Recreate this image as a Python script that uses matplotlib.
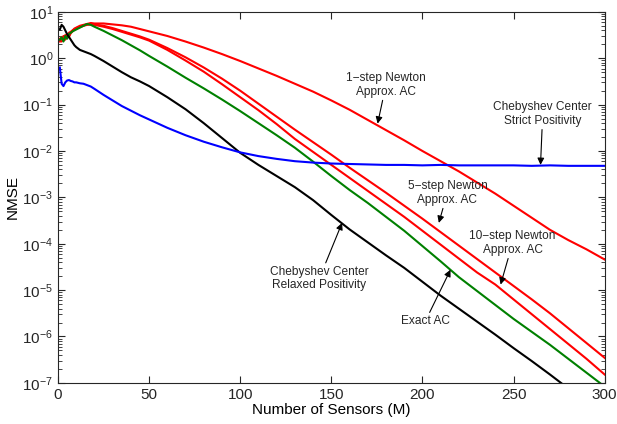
import matplotlib
matplotlib.use("Agg")
import matplotlib.pyplot as plt
from matplotlib.ticker import LogLocator, NullFormatter
import numpy as np

plt.rcParams['font.family'] = ['Liberation Sans', 'DejaVu Sans']
plt.rcParams['mathtext.default'] = 'regular'

# number of sensors
M = [1, 2, 3, 4, 5, 6, 7, 8, 9, 10, 12, 14, 16, 18, 20,
     25, 30, 35, 40, 45, 50, 60, 70, 80, 90, 100, 110, 120, 130, 140, 150, 160, 170,
     180, 190, 200, 210, 220, 230, 240, 250, 260, 270, 280, 290, 300]

# log10(NMSE)
log_cheb_relaxed = [0.62, 0.72, 0.68, 0.60, 0.52, 0.46, 0.40, 0.34, 0.28, 0.24, 0.18, 0.15, 0.12, 0.09, 0.05,
                    -0.06, -0.18, -0.30, -0.41, -0.50, -0.60, -0.84, -1.10, -1.40, -1.72, -2.04, -2.30, -2.54, -2.78, -3.06, -3.38, -3.69, -3.97,
                    -4.25, -4.52, -4.82, -5.12, -5.40, -5.68, -5.96, -6.25, -6.53, -6.82, -7.12, -7.40, -7.70]
log_cheb_strict = [-0.20, -0.55, -0.60, -0.52, -0.48, -0.47, -0.49, -0.50, -0.52, -0.52, -0.54, -0.55, -0.58, -0.61, -0.66,
                   -0.79, -0.91, -1.03, -1.13, -1.23, -1.32, -1.50, -1.66, -1.80, -1.92, -2.03, -2.11, -2.17, -2.22, -2.25, -2.27, -2.28, -2.29,
                   -2.30, -2.30, -2.31, -2.30, -2.31, -2.31, -2.31, -2.31, -2.32, -2.31, -2.32, -2.32, -2.32]
log_exact = [0.40, 0.45, 0.36, 0.48, 0.42, 0.52, 0.55, 0.58, 0.60, 0.62, 0.66, 0.70, 0.74, 0.72, 0.68,
             0.59, 0.49, 0.39, 0.28, 0.17, 0.05, -0.18, -0.42, -0.65, -0.89, -1.14, -1.40, -1.66, -1.93, -2.23, -2.54, -2.84, -3.12,
             -3.42, -3.72, -4.05, -4.38, -4.72, -5.02, -5.32, -5.62, -5.90, -6.18, -6.48, -6.78, -7.08]
log_newton1 = [0.38, 0.46, 0.40, 0.50, 0.44, 0.55, 0.57, 0.60, 0.64, 0.66, 0.70, 0.72, 0.74, 0.76, 0.75,
               0.75, 0.73, 0.71, 0.68, 0.63, 0.58, 0.48, 0.36, 0.23, 0.09, -0.06, -0.22, -0.38, -0.55, -0.72, -0.91, -1.11, -1.33,
               -1.55, -1.77, -2.00, -2.22, -2.44, -2.68, -2.92, -3.18, -3.44, -3.70, -3.92, -4.12, -4.34]
log_newton5 = [0.42, 0.36, 0.48, 0.40, 0.52, 0.48, 0.56, 0.60, 0.62, 0.65, 0.68, 0.71, 0.73, 0.74, 0.73,
               0.70, 0.65, 0.59, 0.53, 0.47, 0.40, 0.22, 0.02, -0.20, -0.44, -0.70, -0.98, -1.26, -1.54, -1.81, -2.08, -2.36, -2.63,
               -2.90, -3.18, -3.46, -3.75, -4.04, -4.33, -4.62, -4.91, -5.20, -5.50, -5.82, -6.14, -6.46]
log_newton10 = [0.36, 0.44, 0.38, 0.46, 0.50, 0.46, 0.54, 0.58, 0.62, 0.64, 0.67, 0.70, 0.72, 0.73, 0.72,
                0.68, 0.63, 0.57, 0.51, 0.45, 0.38, 0.18, -0.05, -0.29, -0.56, -0.84, -1.12, -1.42, -1.74, -2.02, -2.30, -2.58, -2.86,
                -3.14, -3.42, -3.72, -4.02, -4.32, -4.62, -4.88, -5.20, -5.52, -5.84, -6.16, -6.48, -6.82]

fig = plt.figure(figsize=(6.17, 4.24), dpi=100)
ax = fig.add_axes([0.094, 0.097, 0.886, 0.875])

lw = 1.5
ax.plot(M, np.power(10.0, log_newton1), color='#ff0000', lw=lw)
ax.plot(M, np.power(10.0, log_newton5), color='#ff0000', lw=lw)
ax.plot(M, np.power(10.0, log_newton10), color='#ff0000', lw=lw)
ax.plot(M, np.power(10.0, log_exact), color='#008000', lw=lw)
ax.plot(M, np.power(10.0, log_cheb_relaxed), color='k', lw=lw)
ax.plot(M, np.power(10.0, log_cheb_strict), color='#0000ff', lw=lw)

ax.set_yscale('log')
ax.set_xlim(0, 300)
ax.set_ylim(1e-7, 1e1)
ax.set_xticks([0, 50, 100, 150, 200, 250, 300])
ax.set_yticks([10.0 ** k for k in range(-7, 2)])
ax.yaxis.set_minor_locator(LogLocator(base=10, subs=np.arange(2, 10), numticks=20))
ax.yaxis.set_minor_formatter(NullFormatter())
ax.tick_params(which='both', direction='in', top=True, right=True, labelsize=11, colors='#262626')
ax.tick_params(which='major', length=5, width=0.8)
ax.tick_params(which='minor', length=3, width=0.6)
for s in ax.spines.values():
    s.set_color('#262626')
    s.set_linewidth(0.8)

ax.set_xlabel('Number of Sensors (M)', fontsize=11, labelpad=1)
ax.set_ylabel('NMSE', fontsize=11, labelpad=2)

ap = dict(arrowstyle='-|>', color='k', lw=0.8, mutation_scale=10, shrinkA=0, shrinkB=0)
fs = 8.6
tc = '#262626'
ax.annotate('1\u2212step Newton\nApprox. AC', xy=(175.4, 10**-1.41), xytext=(180, 10**-0.57),
            ha='center', va='center', fontsize=fs, color=tc, arrowprops=ap)
ax.annotate('Chebyshev Center\nStrict Positivity', xy=(264.8, 10**-2.30), xytext=(266, 10**-1.20),
            ha='center', va='center', fontsize=fs, color=tc, arrowprops=ap)
ax.annotate('5\u2212step Newton\nApprox. AC', xy=(209, 10**-3.55), xytext=(213.7, 10**-2.90),
            ha='center', va='center', fontsize=fs, color=tc, arrowprops=ap)
ax.annotate('10\u2212step Newton\nApprox. AC', xy=(242.9, 10**-4.88), xytext=(249.5, 10**-3.98),
            ha='center', va='center', fontsize=fs, color=tc, arrowprops=ap)
ax.annotate('Exact AC', xy=(215.4, 10**-4.56), xytext=(201.6, 10**-5.67),
            ha='center', va='center', fontsize=fs, color=tc, arrowprops=ap)
ax.annotate('Chebyshev Center\nRelaxed Positivity', xy=(155.9, 10**-3.55), xytext=(143.4, 10**-4.75),
            ha='center', va='center', fontsize=fs, color=tc, arrowprops=ap)

fig.savefig('out.png', dpi=100)
